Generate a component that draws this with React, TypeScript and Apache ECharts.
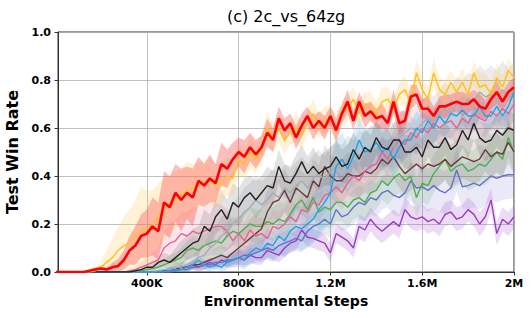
import React, { useEffect, useRef } from "react";
import * as echarts from "echarts";

// Evaluation steps are every 25K environment steps (index i -> i * 25000)
const STEP_SIZE = 25000;

const xTickValues = [400000, 800000, 1200000, 1600000, 2000000];
const xTickLabels = ["400K", "800K", "1.2M", "1.6M", "2M"];
const yTickValues = [0, 0.2, 0.4, 0.6, 0.8, 1.0];

const red = [
  0, 0, 0, 0, 0, 0, 0.005, 0.01, 0.015, 0.01,
  0.02, 0.025, 0.05, 0.09, 0.11, 0.15, 0.16, 0.19, 0.17, 0.29,
  0.27, 0.33, 0.3, 0.33, 0.31, 0.38, 0.36, 0.39, 0.37, 0.45,
  0.43, 0.47, 0.5, 0.48, 0.52, 0.49, 0.52, 0.58, 0.55, 0.64,
  0.59, 0.62, 0.56, 0.61, 0.65, 0.6, 0.63, 0.6, 0.65, 0.59,
  0.66, 0.71, 0.63, 0.71, 0.65, 0.67, 0.64, 0.65, 0.62, 0.71,
  0.62, 0.63, 0.73, 0.74, 0.68, 0.68, 0.65, 0.69, 0.69, 0.7,
  0.71, 0.7, 0.7, 0.72, 0.69, 0.68, 0.72, 0.75, 0.71, 0.75, 0.77,
];
const redSpread = [
  0, 0, 0, 0, 0, 0, 0.005, 0.01, 0.01, 0.01,
  0.02, 0.03, 0.04, 0.06, 0.08, 0.09, 0.1, 0.12, 0.12, 0.13,
  0.13, 0.12, 0.13, 0.11, 0.12, 0.1, 0.09, 0.1, 0.08, 0.09,
  0.08, 0.07, 0.06, 0.07, 0.06, 0.06, 0.05, 0.06, 0.05, 0.05,
  0.05, 0.04, 0.05, 0.05, 0.04, 0.05, 0.04, 0.05, 0.04, 0.05,
  0.04, 0.05, 0.04, 0.04, 0.05, 0.04, 0.04, 0.05, 0.04, 0.05,
  0.05, 0.04, 0.05, 0.04, 0.04, 0.05, 0.04, 0.04, 0.05, 0.04,
  0.04, 0.05, 0.04, 0.04, 0.05, 0.04, 0.04, 0.05, 0.04, 0.04, 0.04,
];

const gold = [
  0, 0, 0, 0, 0, 0, 0, 0.005, 0.02, 0.04,
  0.06, 0.09, 0.11, 0.12, 0.15, 0.175, 0.18, 0.19, 0.23, 0.26,
  0.28, 0.3, 0.32, 0.34, 0.35, 0.36, 0.37, 0.38, 0.36, 0.37,
  0.4, 0.39, 0.47, 0.45, 0.5, 0.47, 0.51, 0.6, 0.56, 0.6,
  0.55, 0.58, 0.6, 0.57, 0.62, 0.66, 0.61, 0.63, 0.64, 0.6,
  0.66, 0.68, 0.72, 0.66, 0.7, 0.69, 0.66, 0.71, 0.72, 0.68,
  0.74, 0.76, 0.7, 0.83, 0.76, 0.72, 0.83, 0.76, 0.74, 0.79,
  0.75, 0.79, 0.74, 0.83, 0.77, 0.78, 0.74, 0.81, 0.77, 0.84, 0.81,
];
const goldSpread = [
  0, 0, 0, 0, 0, 0, 0, 0.01, 0.03, 0.05,
  0.08, 0.1, 0.12, 0.14, 0.15, 0.18, 0.16, 0.15, 0.14, 0.13,
  0.12, 0.12, 0.11, 0.12, 0.1, 0.1, 0.09, 0.1, 0.09, 0.08,
  0.08, 0.07, 0.07, 0.06, 0.07, 0.06, 0.06, 0.07, 0.06, 0.06,
  0.06, 0.05, 0.06, 0.06, 0.05, 0.06, 0.05, 0.06, 0.05, 0.06,
  0.05, 0.06, 0.05, 0.06, 0.05, 0.06, 0.05, 0.06, 0.05, 0.05,
  0.05, 0.06, 0.05, 0.06, 0.05, 0.05, 0.06, 0.05, 0.06, 0.05,
  0.05, 0.06, 0.05, 0.05, 0.06, 0.05, 0.05, 0.06, 0.05, 0.05, 0.05,
];

const black = [
  0, 0, 0, 0, 0, 0, 0, 0, 0, 0,
  0, 0, 0, 0, 0.005, 0.01, 0.02, 0.02, 0.04, 0.05,
  0.04, 0.06, 0.08, 0.1, 0.12, 0.13, 0.19, 0.17, 0.23, 0.26,
  0.22, 0.29, 0.27, 0.31, 0.33, 0.3, 0.33, 0.36, 0.35, 0.44,
  0.38, 0.37, 0.41, 0.46, 0.41, 0.44, 0.41, 0.43, 0.44, 0.48,
  0.44, 0.45, 0.51, 0.47, 0.52, 0.5, 0.56, 0.52, 0.51, 0.55,
  0.55, 0.5, 0.5, 0.52, 0.48, 0.55, 0.52, 0.52, 0.56, 0.51,
  0.53, 0.59, 0.55, 0.62, 0.56, 0.54, 0.55, 0.59, 0.57, 0.6, 0.59,
];
const blackSpread = [
  0, 0, 0, 0, 0, 0, 0, 0, 0, 0,
  0, 0, 0, 0, 0.005, 0.01, 0.01, 0.02, 0.02, 0.03,
  0.03, 0.04, 0.05, 0.05, 0.06, 0.06, 0.07, 0.07, 0.07, 0.08,
  0.08, 0.08, 0.08, 0.08, 0.07, 0.08, 0.07, 0.08, 0.07, 0.07,
  0.07, 0.07, 0.08, 0.07, 0.07, 0.08, 0.07, 0.07, 0.08, 0.07,
  0.07, 0.08, 0.07, 0.07, 0.08, 0.07, 0.07, 0.08, 0.07, 0.07,
  0.08, 0.07, 0.07, 0.08, 0.07, 0.07, 0.08, 0.07, 0.07, 0.08,
  0.07, 0.07, 0.08, 0.07, 0.07, 0.08, 0.07, 0.07, 0.08, 0.07, 0.07,
];

const sky = [
  0, 0, 0, 0, 0, 0, 0, 0, 0, 0,
  0, 0, 0, 0, 0, 0, 0, 0, 0, 0.002,
  0.005, 0.01, 0.01, 0.02, 0.03, 0.05, 0.03, 0.02, 0.03, 0.02,
  0.04, 0.05, 0.06, 0.05, 0.08, 0.1, 0.09, 0.12, 0.11, 0.15,
  0.13, 0.17, 0.19, 0.18, 0.2, 0.22, 0.26, 0.29, 0.33, 0.44,
  0.47, 0.43, 0.48, 0.55, 0.5, 0.51, 0.54, 0.5, 0.52, 0.47,
  0.52, 0.55, 0.55, 0.6, 0.58, 0.63, 0.6, 0.65, 0.62, 0.66,
  0.65, 0.675, 0.65, 0.65, 0.69, 0.65, 0.65, 0.69, 0.65, 0.69, 0.75,
];
const skySpread = [
  0, 0, 0, 0, 0, 0, 0, 0, 0, 0,
  0, 0, 0, 0, 0, 0, 0, 0, 0, 0.005,
  0.01, 0.01, 0.01, 0.02, 0.02, 0.02, 0.02, 0.02, 0.02, 0.02,
  0.03, 0.03, 0.04, 0.04, 0.05, 0.05, 0.05, 0.06, 0.06, 0.07,
  0.07, 0.08, 0.09, 0.09, 0.1, 0.1, 0.11, 0.11, 0.12, 0.11,
  0.11, 0.1, 0.1, 0.1, 0.09, 0.09, 0.09, 0.08, 0.08, 0.08,
  0.08, 0.08, 0.07, 0.07, 0.07, 0.07, 0.07, 0.07, 0.06, 0.06,
  0.06, 0.06, 0.06, 0.06, 0.06, 0.06, 0.06, 0.06, 0.06, 0.06, 0.06,
];

const gray = [
  0, 0, 0, 0, 0, 0, 0, 0, 0, 0,
  0, 0, 0, 0, 0, 0, 0, 0, 0.005, 0.01,
  0.01, 0.02, 0.02, 0.03, 0.04, 0.06, 0.07, 0.1, 0.12, 0.15,
  0.17, 0.2, 0.22, 0.25, 0.27, 0.3, 0.28, 0.3, 0.33, 0.31,
  0.35, 0.33, 0.36, 0.38, 0.35, 0.39, 0.41, 0.38, 0.42, 0.44,
  0.43, 0.47, 0.45, 0.49, 0.48, 0.51, 0.5, 0.53, 0.55, 0.52,
  0.56, 0.58, 0.6, 0.59, 0.62, 0.64, 0.63, 0.66, 0.68, 0.66,
  0.7, 0.69, 0.72, 0.71, 0.75, 0.73, 0.74, 0.72, 0.76, 0.73, 0.75,
];
const graySpread = [
  0, 0, 0, 0, 0, 0, 0, 0, 0, 0,
  0, 0, 0, 0, 0, 0, 0, 0, 0.005, 0.01,
  0.01, 0.02, 0.02, 0.03, 0.03, 0.04, 0.05, 0.06, 0.07, 0.08,
  0.08, 0.09, 0.09, 0.1, 0.1, 0.1, 0.1, 0.1, 0.1, 0.1,
  0.1, 0.1, 0.1, 0.1, 0.1, 0.1, 0.1, 0.1, 0.1, 0.1,
  0.1, 0.1, 0.1, 0.1, 0.1, 0.1, 0.1, 0.1, 0.1, 0.1,
  0.1, 0.1, 0.1, 0.1, 0.1, 0.1, 0.1, 0.1, 0.11, 0.11,
  0.11, 0.11, 0.11, 0.11, 0.11, 0.11, 0.12, 0.12, 0.12, 0.12, 0.12,
];

const pink = [
  0, 0, 0, 0, 0, 0, 0, 0, 0, 0,
  0, 0, 0, 0.005, 0.01, 0.02, 0.03, 0.04, 0.05, 0.1,
  0.12, 0.13, 0.16, 0.15, 0.17, 0.16, 0.17, 0.18, 0.19, 0.19,
  0.17, 0.13, 0.16, 0.13, 0.175, 0.15, 0.16, 0.14, 0.19, 0.18,
  0.2, 0.23, 0.21, 0.26, 0.25, 0.29, 0.28, 0.32, 0.33, 0.355,
  0.33, 0.37, 0.4, 0.38, 0.42, 0.44, 0.45, 0.5, 0.47, 0.52,
  0.55, 0.53, 0.58, 0.56, 0.6, 0.58, 0.62, 0.6, 0.62, 0.63,
  0.6, 0.64, 0.62, 0.66, 0.64, 0.63, 0.67, 0.65, 0.68, 0.66, 0.7,
];
const pinkSpread = [
  0, 0, 0, 0, 0, 0, 0, 0, 0, 0,
  0, 0, 0, 0.005, 0.01, 0.02, 0.03, 0.04, 0.05, 0.07,
  0.08, 0.09, 0.09, 0.1, 0.1, 0.1, 0.1, 0.1, 0.1, 0.09,
  0.09, 0.08, 0.08, 0.08, 0.08, 0.07, 0.07, 0.07, 0.07, 0.07,
  0.07, 0.07, 0.07, 0.07, 0.07, 0.07, 0.07, 0.07, 0.07, 0.07,
  0.07, 0.07, 0.07, 0.07, 0.07, 0.07, 0.07, 0.07, 0.07, 0.07,
  0.07, 0.07, 0.07, 0.07, 0.07, 0.07, 0.07, 0.07, 0.07, 0.07,
  0.07, 0.07, 0.07, 0.07, 0.07, 0.07, 0.07, 0.07, 0.07, 0.07, 0.07,
];

const brown = [
  0, 0, 0, 0, 0, 0, 0, 0, 0, 0,
  0, 0, 0, 0, 0, 0, 0, 0, 0, 0.005,
  0.01, 0.01, 0.02, 0.02, 0.03, 0.03, 0.04, 0.05, 0.06, 0.07,
  0.06, 0.08, 0.1, 0.12, 0.14, 0.16, 0.18, 0.25, 0.29, 0.3,
  0.34, 0.29, 0.35, 0.33, 0.31, 0.38, 0.355, 0.44, 0.4, 0.38,
  0.38, 0.41, 0.4, 0.4, 0.42, 0.41, 0.43, 0.47, 0.45, 0.48,
  0.44, 0.41, 0.43, 0.45, 0.43, 0.45, 0.44, 0.45, 0.47, 0.44,
  0.46, 0.48, 0.47, 0.46, 0.47, 0.51, 0.48, 0.5, 0.49, 0.54, 0.5,
];
const brownSpread = [
  0, 0, 0, 0, 0, 0, 0, 0, 0, 0,
  0, 0, 0, 0, 0, 0, 0, 0, 0, 0.005,
  0.01, 0.01, 0.02, 0.02, 0.02, 0.02, 0.03, 0.03, 0.04, 0.04,
  0.04, 0.05, 0.06, 0.07, 0.08, 0.08, 0.09, 0.09, 0.09, 0.09,
  0.09, 0.09, 0.09, 0.09, 0.09, 0.09, 0.09, 0.09, 0.09, 0.09,
  0.09, 0.09, 0.09, 0.09, 0.09, 0.09, 0.09, 0.09, 0.09, 0.09,
  0.09, 0.09, 0.09, 0.09, 0.09, 0.09, 0.09, 0.09, 0.09, 0.09,
  0.09, 0.09, 0.09, 0.09, 0.09, 0.09, 0.09, 0.09, 0.09, 0.09, 0.09,
];

const green = [
  0, 0, 0, 0, 0, 0, 0, 0, 0, 0,
  0, 0, 0, 0, 0, 0.005, 0.01, 0.015, 0.02, 0.03,
  0.04, 0.05, 0.06, 0.09, 0.1, 0.09, 0.11, 0.12, 0.13, 0.12,
  0.15, 0.17, 0.16, 0.18, 0.2, 0.19, 0.19, 0.21, 0.2, 0.22,
  0.21, 0.24, 0.28, 0.3, 0.26, 0.31, 0.25, 0.27, 0.26, 0.29,
  0.29, 0.27, 0.3, 0.31, 0.29, 0.33, 0.34, 0.38, 0.36, 0.39,
  0.41, 0.38, 0.4, 0.31, 0.37, 0.36, 0.41, 0.44, 0.47, 0.42,
  0.44, 0.45, 0.42, 0.43, 0.45, 0.44, 0.47, 0.5, 0.47, 0.56, 0.5,
];
const greenSpread = [
  0, 0, 0, 0, 0, 0, 0, 0, 0, 0,
  0, 0, 0, 0, 0, 0.005, 0.01, 0.01, 0.02, 0.02,
  0.03, 0.03, 0.04, 0.04, 0.05, 0.05, 0.05, 0.05, 0.06, 0.06,
  0.06, 0.06, 0.06, 0.07, 0.07, 0.07, 0.07, 0.07, 0.07, 0.07,
  0.08, 0.08, 0.08, 0.08, 0.08, 0.08, 0.08, 0.08, 0.08, 0.08,
  0.08, 0.08, 0.08, 0.08, 0.08, 0.08, 0.08, 0.08, 0.08, 0.08,
  0.08, 0.08, 0.08, 0.08, 0.08, 0.08, 0.08, 0.08, 0.08, 0.08,
  0.08, 0.08, 0.08, 0.08, 0.08, 0.08, 0.08, 0.08, 0.08, 0.08, 0.08,
];

const slate = [
  0, 0, 0, 0, 0, 0, 0, 0, 0, 0,
  0, 0, 0, 0, 0, 0, 0, 0, 0, 0,
  0, 0.005, 0.01, 0.01, 0.02, 0.02, 0.03, 0.03, 0.04, 0.04,
  0.05, 0.05, 0.06, 0.07, 0.07, 0.08, 0.09, 0.1, 0.09, 0.11,
  0.12, 0.13, 0.14, 0.13, 0.17, 0.19, 0.2, 0.22, 0.2, 0.26,
  0.23, 0.24, 0.27, 0.29, 0.28, 0.31, 0.3, 0.33, 0.34, 0.32,
  0.31, 0.33, 0.38, 0.35, 0.355, 0.34, 0.36, 0.34, 0.33, 0.35,
  0.425, 0.355, 0.36, 0.37, 0.36, 0.38, 0.4, 0.39, 0.4, 0.405, 0.405,
];
const slateSpread = [
  0, 0, 0, 0, 0, 0, 0, 0, 0, 0,
  0, 0, 0, 0, 0, 0, 0, 0, 0, 0,
  0, 0.005, 0.01, 0.01, 0.01, 0.02, 0.02, 0.02, 0.02, 0.03,
  0.03, 0.03, 0.03, 0.04, 0.04, 0.04, 0.04, 0.05, 0.05, 0.05,
  0.05, 0.05, 0.05, 0.05, 0.06, 0.06, 0.06, 0.06, 0.06, 0.06,
  0.06, 0.06, 0.07, 0.07, 0.07, 0.07, 0.07, 0.07, 0.07, 0.08,
  0.08, 0.08, 0.08, 0.08, 0.08, 0.09, 0.09, 0.09, 0.09, 0.09,
  0.09, 0.09, 0.1, 0.1, 0.1, 0.1, 0.1, 0.1, 0.1, 0.1, 0.1,
];

const purple = [
  0, 0, 0, 0, 0, 0, 0, 0, 0, 0,
  0, 0, 0, 0, 0, 0, 0, 0, 0, 0.005,
  0.01, 0.01, 0.02, 0.02, 0.03, 0.02, 0.03, 0.04, 0.03, 0.05,
  0.04, 0.05, 0.06, 0.05, 0.07, 0.06, 0.06, 0.09, 0.08, 0.07,
  0.1, 0.12, 0.13, 0.175, 0.145, 0.14, 0.13, 0.12, 0.08, 0.16,
  0.145, 0.13, 0.1, 0.19, 0.175, 0.22, 0.19, 0.17, 0.19, 0.21,
  0.19, 0.26, 0.23, 0.22, 0.23, 0.21, 0.22, 0.2, 0.24, 0.25,
  0.22, 0.23, 0.26, 0.24, 0.2, 0.23, 0.3, 0.16, 0.22, 0.2, 0.23,
];
const purpleSpread = [
  0, 0, 0, 0, 0, 0, 0, 0, 0, 0,
  0, 0, 0, 0, 0, 0, 0, 0, 0, 0.005,
  0.01, 0.01, 0.01, 0.01, 0.02, 0.02, 0.02, 0.02, 0.02, 0.02,
  0.02, 0.02, 0.03, 0.03, 0.03, 0.03, 0.03, 0.03, 0.03, 0.03,
  0.04, 0.04, 0.04, 0.04, 0.04, 0.04, 0.04, 0.04, 0.04, 0.04,
  0.04, 0.04, 0.04, 0.05, 0.05, 0.05, 0.05, 0.05, 0.05, 0.05,
  0.05, 0.05, 0.05, 0.05, 0.05, 0.05, 0.05, 0.05, 0.05, 0.05,
  0.05, 0.05, 0.05, 0.05, 0.05, 0.05, 0.05, 0.05, 0.05, 0.05, 0.05,
];

const steps = red.map((_, i) => i * STEP_SIZE);

type Def = { key: string; color: string; band: string; mean: number[]; spread: number[]; width: number };

// drawing order: first = bottom
const defs: Def[] = [
  { key: "purple", color: "#9b3dbd", band: "rgba(170,90,210,0.22)", mean: purple, spread: purpleSpread, width: 1.4 },
  { key: "slate", color: "#6870c8", band: "rgba(120,120,205,0.16)", mean: slate, spread: slateSpread, width: 1.4 },
  { key: "green", color: "#4caf50", band: "rgba(90,170,90,0.16)", mean: green, spread: greenSpread, width: 1.4 },
  { key: "brown", color: "#6b3b3b", band: "rgba(110,70,70,0.14)", mean: brown, spread: brownSpread, width: 1.4 },
  { key: "pink", color: "#e8648c", band: "rgba(235,120,160,0.2)", mean: pink, spread: pinkSpread, width: 1.4 },
  { key: "gray", color: "#a3acb5", band: "rgba(150,160,170,0.2)", mean: gray, spread: graySpread, width: 1.4 },
  { key: "sky", color: "#1ea3e6", band: "rgba(70,160,215,0.2)", mean: sky, spread: skySpread, width: 1.4 },
  { key: "black", color: "#222222", band: "rgba(60,60,60,0.14)", mean: black, spread: blackSpread, width: 1.4 },
  { key: "gold", color: "#ffc125", band: "rgba(255,205,90,0.25)", mean: gold, spread: goldSpread, width: 1.5 },
  { key: "red", color: "#ff0000", band: "rgba(255,70,70,0.35)", mean: red, spread: redSpread, width: 2.6 },
];

const FONT = "DejaVu Sans";

export default function App() {
  const ref = useRef<HTMLDivElement>(null);
  useEffect(() => {
    if (!ref.current) return;
    const chart = echarts.init(ref.current, undefined, { renderer: "svg" });
    const series: any[] = [];
    defs.forEach((d) => {
      const lower = d.mean.map((m, i) => Math.max(0, m - d.spread[i]));
      const upper = d.mean.map((m, i) => Math.min(1, m + d.spread[i]));
      const last = steps.length - 1;
      series.push({
        type: "custom",
        name: d.key + "-band",
        silent: true,
        clip: true,
        z: 1,
        data: steps.map((x, i) => [x, lower[i], upper[i]]),
        encode: { x: 0, y: [1, 2] },
        renderItem: (params: any, api: any) => {
          if (params.dataIndex !== last) return null;
          const pts: number[][] = [];
          for (let i = 0; i < steps.length; i++) pts.push(api.coord([steps[i], upper[i]]));
          for (let i = steps.length - 1; i >= 0; i--) pts.push(api.coord([steps[i], lower[i]]));
          return {
            type: "polygon",
            shape: { points: pts },
            style: { fill: d.band, stroke: "none" },
            silent: true,
          };
        },
      });
    });
    defs.forEach((d) => {
      series.push({
        type: "line",
        name: d.key,
        data: steps.map((x, i) => [x, d.mean[i]]),
        symbol: "none",
        showSymbol: false,
        lineStyle: { color: d.color, width: d.width },
        silent: true,
        z: 2,
      });
    });

    chart.setOption({
      animation: false,
      grid: {
        left: 58,
        right: 17,
        top: 32,
        bottom: 46,
        show: true,
        borderColor: "#333",
        borderWidth: 1,
        backgroundColor: "transparent",
        containLabel: false,
        outerBoundsMode: "none",
      },
      graphic: [
        {
          type: "text",
          x: 286,
          y: 16,
          style: {
            text: "(c) 2c_vs_64zg",
            textAlign: "center",
            textVerticalAlign: "middle",
            font: `normal 16px "${FONT}"`,
            fill: "#000",
          },
        },
      ],
      xAxis: {
        type: "value",
        min: 13000,
        max: 2000000,
        name: "Environmental Steps",
        nameLocation: "middle",
        nameGap: 21,
        nameTextStyle: { fontFamily: FONT, fontWeight: "bold", fontSize: 14, color: "#000" },
        axisLine: { show: true, lineStyle: { color: "#333", width: 1 } },
        axisTick: { show: true, length: 3.5, customValues: xTickValues, lineStyle: { color: "#333" } },
        axisLabel: {
          customValues: xTickValues,
          formatter: (v: number) => {
            const k = xTickValues.indexOf(v);
            return k >= 0 ? xTickLabels[k] : "";
          },
          fontFamily: FONT,
          fontWeight: "bold",
          fontSize: 11,
          color: "#000",
          margin: 6,
        },
        splitLine: { show: true, lineStyle: { color: "#b0b0b0", width: 0.8 } },
      },
      yAxis: {
        type: "value",
        min: 0,
        max: 1,
        interval: 0.2,
        name: "Test Win Rate",
        nameLocation: "middle",
        nameGap: 36,
        nameTextStyle: { fontFamily: FONT, fontWeight: "bold", fontSize: 16, color: "#000" },
        axisLine: { show: true, lineStyle: { color: "#333", width: 1 } },
        axisTick: { show: true, length: 3.5, lineStyle: { color: "#333" } },
        axisLabel: {
          formatter: (v: number) => {
            const k = yTickValues.findIndex((t) => Math.abs(t - v) < 1e-9);
            return k >= 0 ? yTickValues[k].toFixed(1) : "";
          },
          fontFamily: FONT,
          fontWeight: "bold",
          fontSize: 11,
          color: "#000",
          margin: 7,
        },
        splitLine: { show: true, lineStyle: { color: "#b0b0b0", width: 0.8 } },
      },
      series,
    });
    return () => chart.dispose();
  }, []);
  return (
    <div
      ref={ref}
      style={{ position: "fixed", left: 0, top: 0, width: 531, height: 318, background: "#fff" }}
    />
  );
}
